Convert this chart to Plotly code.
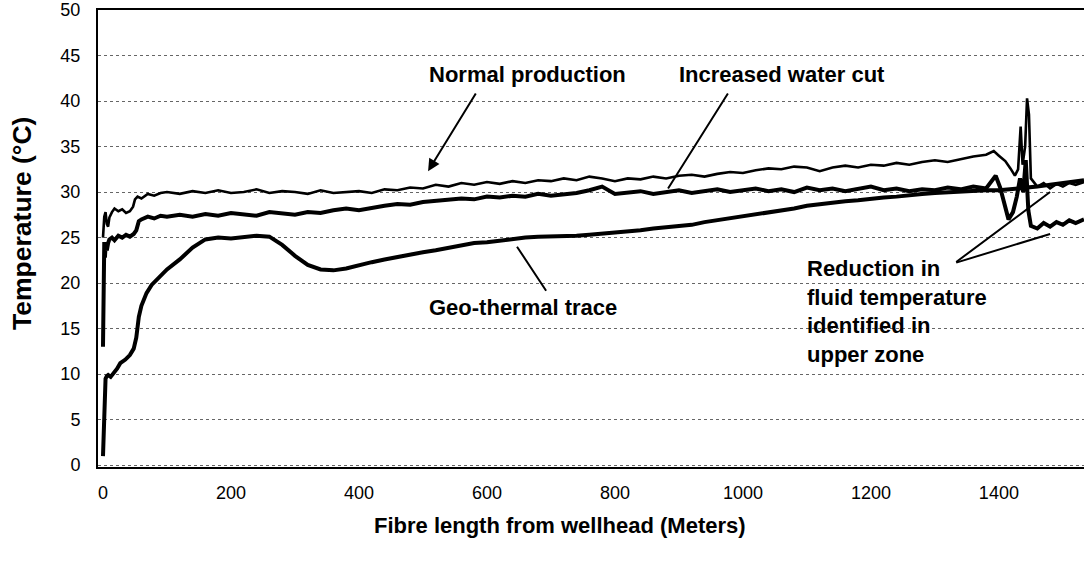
import plotly.graph_objects as go

# ---- fibre-optic DTS temperature traces along the well ----
# sampling positions (m from wellhead) for the main body of each trace
mid_x = [100, 120, 140, 160, 180, 200, 220, 240, 260, 280, 300, 320, 340, 360, 380,
         400, 420, 440, 460, 480, 500, 520, 540, 560, 580, 600, 620, 640, 660, 680,
         700, 720, 740, 760, 780, 800, 820, 840, 860, 880, 900, 920, 940, 960, 980,
         1000, 1020, 1040, 1060, 1080, 1100, 1120, 1140, 1160, 1180, 1200, 1220, 1240,
         1260, 1280, 1300, 1320, 1340, 1360, 1380]

# Normal production
normal_x_start = [0, 2, 4, 6, 8, 10, 14, 18, 24, 30, 36, 42, 47, 50, 54, 60, 70, 80, 90]
normal_y_start = [25.0, 27.3, 27.8, 26.5, 26.2, 27.2, 27.8, 28.2, 27.9, 28.1, 27.7, 27.9,
                  28.4, 29.2, 29.5, 29.3, 29.8, 29.6, 29.9]
normal_y_mid = [30.0, 29.8, 30.1, 29.9, 30.2, 29.9, 30.0, 30.3, 29.9, 30.1, 30.0, 29.8,
                30.2, 29.9, 30.0, 30.1, 29.9, 30.3, 30.2, 30.5, 30.4, 30.8, 30.6, 31.0,
                30.8, 31.1, 30.9, 31.2, 31.0, 31.3, 31.2, 31.5, 31.3, 31.7, 31.5, 31.2,
                31.5, 31.4, 31.7, 31.5, 31.8, 31.9, 31.7, 32.0, 32.2, 32.1, 32.4, 32.6,
                32.5, 32.8, 32.7, 32.3, 32.7, 32.9, 32.7, 33.0, 32.9, 33.2, 33.0, 33.3,
                33.5, 33.3, 33.6, 33.9, 34.1]
normal_x_end = [1392, 1400, 1410, 1418, 1425, 1430, 1434, 1437, 1441, 1444, 1447, 1450,
                1460, 1470, 1480, 1490, 1500, 1510, 1520, 1533]
normal_y_end = [34.5, 34.0, 33.4, 32.6, 31.8, 32.5, 37.2, 33.0, 35.0, 40.3, 38.5, 31.5,
                30.6, 31.0, 30.4, 30.9, 30.6, 31.0, 30.8, 31.1]

# Increased water cut
water_x_start = [0, 1, 2, 3, 4, 6, 8, 10, 14, 18, 24, 30, 36, 42, 48, 52, 56, 60, 70, 80, 90]
water_y_start = [13.0, 19.0, 24.5, 22.8, 24.0, 23.6, 24.4, 24.8, 25.0, 24.7, 25.2, 25.0,
                 25.3, 25.1, 25.4, 25.8, 26.8, 27.0, 27.3, 27.1, 27.4]
water_y_mid = [27.3, 27.5, 27.3, 27.6, 27.4, 27.7, 27.5, 27.4, 27.8, 27.6, 27.5, 27.8,
               27.7, 28.0, 28.2, 28.0, 28.3, 28.5, 28.7, 28.6, 28.9, 29.0, 29.2, 29.3,
               29.2, 29.5, 29.4, 29.6, 29.5, 29.8, 29.6, 29.7, 29.9, 30.2, 30.6, 29.8,
               29.9, 30.1, 29.8, 30.0, 30.2, 29.9, 30.1, 30.3, 30.0, 30.2, 30.4, 30.1,
               30.3, 30.0, 30.5, 30.2, 30.4, 30.1, 30.3, 30.6, 30.2, 30.4, 30.1, 30.3,
               30.2, 30.5, 30.3, 30.6, 30.4]
water_x_end = [1395, 1402, 1410, 1415, 1422, 1428, 1433, 1438, 1442, 1446, 1450, 1460,
               1470, 1480, 1490, 1500, 1510, 1520, 1533]
water_y_end = [31.8, 30.5, 28.5, 27.0, 27.8, 29.5, 31.5, 30.0, 33.5, 28.0, 26.3, 26.0,
               26.6, 26.2, 26.7, 26.4, 26.9, 26.6, 27.0]

# Geo-thermal trace
geo_x_start = [0, 1, 2, 3, 4, 6, 8, 12, 16, 22, 27, 35, 42, 48, 52, 56, 60, 68, 76, 84, 92]
geo_y_start = [1.0, 4.0, 7.0, 8.5, 9.5, 9.8, 9.9, 9.7, 10.0, 10.6, 11.2, 11.6, 12.1, 12.8,
               14.0, 16.3, 17.5, 18.9, 19.8, 20.4, 21.0]
geo_y_mid = [21.5, 22.6, 23.9, 24.8, 25.0, 24.9, 25.0, 25.2, 25.1, 24.2, 23.0, 22.0,
             21.5, 21.4, 21.6, 22.0, 22.3, 22.6, 22.9, 23.1, 23.4, 23.6, 23.9, 24.2,
             24.4, 24.5, 24.7, 24.8, 25.0, 25.1, 25.1, 25.2, 25.2, 25.3, 25.4, 25.5,
             25.7, 25.8, 26.0, 26.1, 26.3, 26.4, 26.7, 26.9, 27.2, 27.4, 27.6, 27.8,
             28.0, 28.2, 28.5, 28.7, 28.8, 29.0, 29.1, 29.3, 29.4, 29.5, 29.7, 29.8,
             29.9, 30.0, 30.0, 30.1, 30.2]
geo_x_end = [1400, 1420, 1440, 1460, 1480, 1500, 1520, 1533]
geo_y_end = [30.2, 30.3, 30.4, 30.6, 30.8, 31.0, 31.2, 31.3]

x_ticks = [0, 200, 400, 600, 800, 1000, 1200, 1400]
y_ticks = [0, 5, 10, 15, 20, 25, 30, 35, 40, 45, 50]

FONT = "Liberation Sans, Arial, sans-serif"

fig = go.Figure()
for name, xs, ys, w in [
    ("Geo-thermal trace", geo_x_start + mid_x + geo_x_end,
     geo_y_start + geo_y_mid + geo_y_end, 4),
    ("Increased water cut", water_x_start + mid_x + water_x_end,
     water_y_start + water_y_mid + water_y_end, 4),
    ("Normal production", normal_x_start + mid_x + normal_x_end,
     normal_y_start + normal_y_mid + normal_y_end, 2.6),
]:
    fig.add_trace(go.Scatter(x=xs, y=ys, mode="lines", name=name,
                             line=dict(color="black", width=w), hoverinfo="skip"))

def label(text, x, y, **kw):
    fig.add_annotation(text=text, x=x, y=y, xref="x", yref="y", showarrow=False,
                       font=dict(family=FONT, size=22, color="black"), **kw)

def arrow(x_tail, y_tail, x_tip, y_tip, head=2, size=1.2):
    fig.add_annotation(text="", x=x_tip, y=y_tip, ax=x_tail, ay=y_tail,
                       xref="x", yref="y", axref="x", ayref="y",
                       showarrow=True, arrowhead=head, arrowsize=size,
                       arrowwidth=2, arrowcolor="black")

label("<b>Normal production</b>", 664, 42.9)
arrow(584, 41.0, 508, 32.3)
label("<b>Increased water cut</b>", 1061, 42.9)
arrow(978, 41.0, 883, 30.4, head=0)
label("<b>Geo-thermal trace</b>", 657, 17.3)
arrow(694, 19.0, 647, 24.0, head=0)
label("<b>Reduction in<br>fluid temperature<br>identified in<br>upper zone</b>",
      1097, 23.15, xanchor="left", yanchor="top", align="left")
arrow(1331, 22.2, 1480, 30.0, head=0)
arrow(1331, 22.2, 1480, 25.4, head=0)

# axis titles
fig.add_annotation(text="<b>Fibre length from wellhead (Meters)</b>", xref="paper",
                   yref="paper", x=0.4686, y=-0.127, xanchor="center", yanchor="middle",
                   showarrow=False, font=dict(family=FONT, size=22, color="black"))
fig.add_annotation(text="<b>Temperature (°C)</b>", xref="paper", yref="paper",
                   x=-0.0771, y=0.534, xanchor="center", yanchor="middle",
                   textangle=-90, showarrow=False,
                   font=dict(family=FONT, size=26.5, color="black"))

fig.update_layout(
    width=1084, height=565,
    margin=dict(l=98, r=0, t=10, b=98),
    paper_bgcolor="white", plot_bgcolor="white",
    showlegend=False,
    font=dict(family=FONT, size=18, color="black"),
)
fig.update_xaxes(range=[-7.8, 1533], tickvals=x_ticks, showgrid=False, zeroline=False,
                 showline=True, linecolor="black", linewidth=2, mirror=True,
                 ticks="outside", ticklen=8, tickcolor="rgba(0,0,0,0)",
                 tickfont=dict(size=18))
fig.update_yaxes(range=[-0.2, 50], tickvals=y_ticks, showgrid=True, gridcolor="#666",
                 griddash="dot", gridwidth=1, zeroline=False,
                 showline=True, linecolor="black", linewidth=2, mirror=False,
                 ticks="outside", ticklen=12, tickcolor="rgba(0,0,0,0)",
                 tickfont=dict(size=18))

fig.write_html("out.html")
